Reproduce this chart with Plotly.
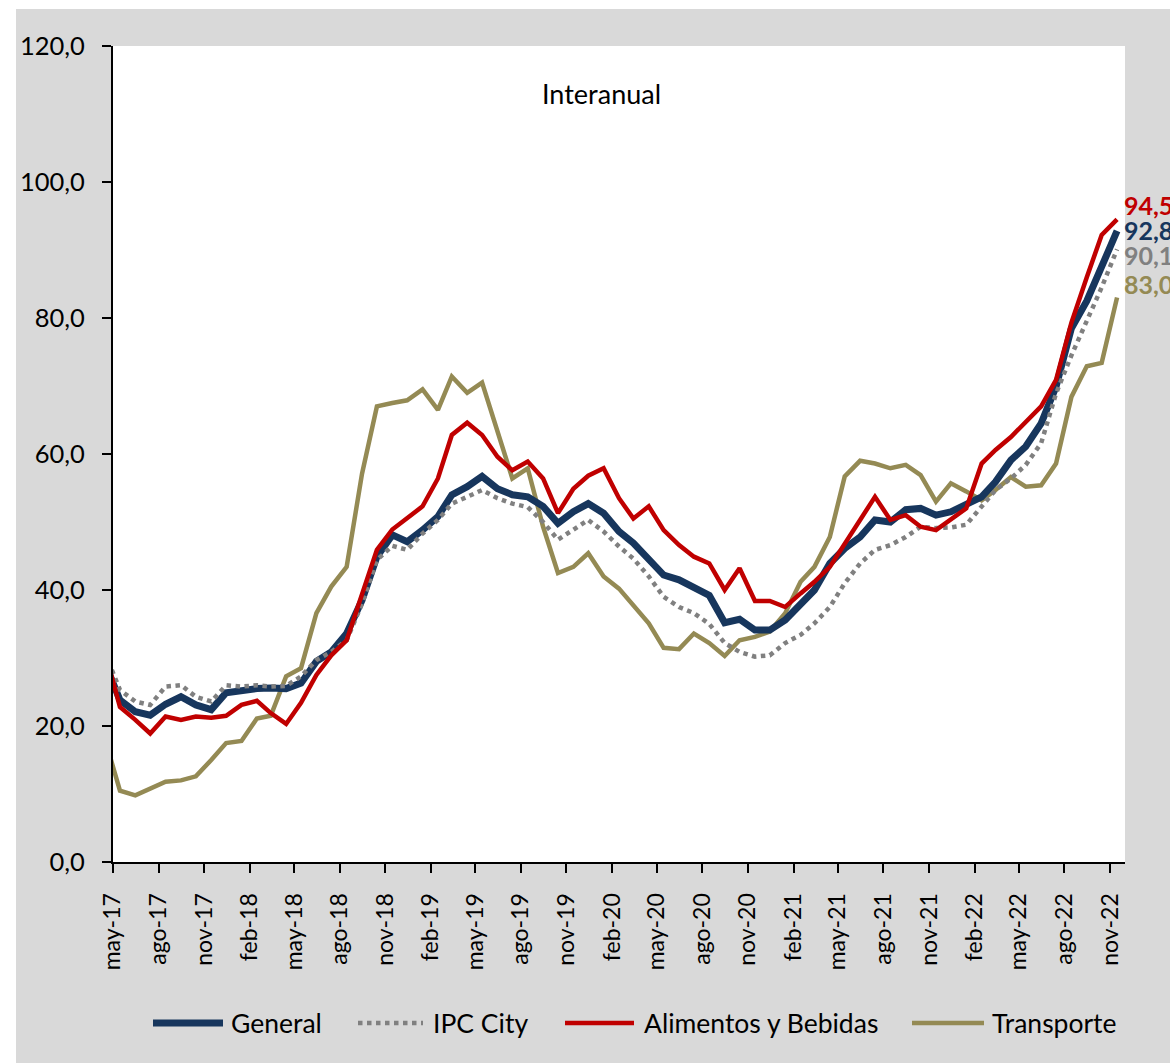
import pandas as pd
import plotly.graph_objects as go

# Monthly points (mid-month), apr-17 .. nov-22 (apr-17 lies left of the axis start and is clipped)
months = [d.strftime("%Y-%m-15") for d in pd.date_range("2017-04-01", "2022-11-01", freq="MS")]

general = [29.2, 23.8, 22.1, 21.6, 23.2, 24.3, 23.1, 22.4, 24.9, 25.3, 25.5, 25.6, 25.5, 26.3, 29.5, 30.9,
           33.6, 38.5, 44.9, 48.1, 47.1, 48.8, 50.8, 54.0, 55.2, 56.7, 54.9, 54.0, 53.7, 52.3, 49.8, 51.5,
           52.7, 51.3, 48.6, 46.9, 44.4, 42.2, 41.5, 40.5, 39.2, 35.2, 35.7, 34.1, 34.1, 35.6, 37.8, 40.0,
           43.9, 46.1, 47.8, 50.3, 50.0, 51.8, 52.0, 51.0, 51.5, 52.5, 53.7, 55.9, 59.1, 61.1, 64.5, 69.9,
           78.5, 82.5, 87.5, 92.8]

ipc_city = [30.7, 25.3, 23.6, 23.1, 25.8, 26.0, 24.3, 23.6, 26.0, 25.8, 26.0, 25.8, 25.9, 27.3, 29.7, 30.9,
            32.6, 38.0, 44.4, 46.5, 45.9, 48.3, 50.3, 52.7, 53.7, 54.7, 53.5, 52.7, 52.2, 50.0, 47.4, 48.8,
            50.3, 48.6, 46.4, 44.6, 42.0, 39.0, 37.5, 36.6, 35.0, 32.2, 30.9, 30.2, 30.4, 32.2, 33.4, 35.1,
            37.5, 41.0, 43.9, 45.9, 46.6, 47.8, 49.3, 49.1, 49.2, 49.6, 52.3, 54.7, 56.4, 58.4, 61.6, 68.9,
            74.5, 79.5, 84.5, 90.1]

alimentos = [30.8, 22.8, 20.9, 18.9, 21.4, 20.9, 21.4, 21.2, 21.5, 23.1, 23.7, 21.9, 20.3, 23.4, 27.5, 30.4,
             32.6, 39.5, 45.9, 48.9, 50.5, 52.3, 56.4, 62.8, 64.6, 62.8, 59.6, 57.6, 58.9, 56.4, 51.3, 54.9,
             56.8, 57.9, 53.5, 50.5, 52.3, 48.8, 46.6, 44.9, 43.9, 40.0, 43.2, 38.4, 38.4, 37.5, 39.5, 41.2,
             43.4, 46.9, 50.3, 53.7, 50.3, 51.0, 49.3, 48.8, 50.3, 52.0, 58.6, 60.6, 62.5, 64.8, 67.0, 70.9,
             79.3, 86.0, 92.2, 94.5]

transporte = [18.0, 10.5, 9.8, 10.7, 11.8, 12.0, 12.6, 15.0, 17.5, 17.8, 21.1, 21.5, 27.3, 28.5, 36.6, 40.5,
              43.4, 57.1, 67.0, 67.5, 67.9, 69.5, 66.5, 71.4, 69.0, 70.5, 63.5, 56.4, 57.9, 49.3, 42.5, 43.4,
              45.4, 42.0, 40.2, 37.8, 35.1, 31.5, 31.3, 33.6, 32.2, 30.3, 32.6, 33.1, 33.9, 36.6, 41.2, 43.4,
              47.8, 56.7, 59.0, 58.6, 57.9, 58.4, 56.9, 53.0, 55.7, 54.5, 53.2, 54.7, 56.6, 55.2, 55.4, 58.6,
              68.4, 72.9, 73.4, 83.0]

tick_labels = ["may-17", "ago-17", "nov-17", "feb-18", "may-18", "ago-18", "nov-18", "feb-19",
               "may-19", "ago-19", "nov-19", "feb-20", "may-20", "ago-20", "nov-20", "feb-21",
               "may-21", "ago-21", "nov-21", "feb-22", "may-22", "ago-22", "nov-22"]
tick_vals = [d.strftime("%Y-%m-%d") for d in pd.date_range("2017-05-01", periods=len(tick_labels), freq="3MS")]

y_ticks = [0, 20, 40, 60, 80, 100, 120]

NAVY = "#17365D"
GREY = "#808080"
RED = "#C00000"
OLIVE = "#948A54"
FONT = "Lato, 'Open Sans', sans-serif"

series = {
    "General": (general, NAVY, 7, "solid"),
    "IPC City": (ipc_city, GREY, 4.5, "dot"),
    "Alimentos y Bebidas": (alimentos, RED, 4.5, "solid"),
    "Transporte": (transporte, OLIVE, 4.5, "solid"),
}

fig = go.Figure()
for name in ["Transporte", "General", "IPC City", "Alimentos y Bebidas"]:
    vals, col, w, dash = series[name]
    fig.add_trace(go.Scatter(x=months, y=vals, mode="lines", name=name,
                             line=dict(color=col, width=w, dash=dash), showlegend=False,
                             hoverinfo="x+y"))

# plot geometry in px (for converting fixed pixel positions to paper coords)
W, H = 1170, 1063
L, R, T, B = 113, 45, 46, 201
PW, PH = W - L - R, H - T - B

def px(xp):
    return (xp - L) / PW

def py(yp):
    return (H - B - yp) / PH

fig.update_layout(
    width=W, height=H,
    margin=dict(l=L, r=R, t=T, b=B),
    paper_bgcolor="#D9D9D9",
    plot_bgcolor="white",
    separators=",.",
    font=dict(family=FONT, size=24, color="black"),
    showlegend=False,
    xaxis=dict(
        type="date",
        range=["2017-05-01", "2022-12-01"],
        tickmode="array", tickvals=tick_vals, ticktext=tick_labels,
        tickangle=-90, ticks="outside", ticklen=9, tickwidth=2, tickcolor="black",
        showline=True, linecolor="black", linewidth=2, showgrid=False, zeroline=False,
        tickfont=dict(family=FONT, size=23, color="black"),
        ticklabelstandoff=11,
    ),
    yaxis=dict(
        range=[0, 120], tickmode="array", tickvals=y_ticks, tickformat=".1f",
        ticks="outside", ticklen=9, tickwidth=2, tickcolor="black",
        showline=True, linecolor="black", linewidth=2, showgrid=False, zeroline=False,
        tickfont=dict(family=FONT, size=25.5, color="black"),
        ticklabelstandoff=12,
    ),
)

# white strips outside the grey frame (left and top)
fig.add_shape(type="rect", xref="paper", yref="paper", x0=px(-50), x1=px(16), y0=py(1200), y1=py(-50),
              fillcolor="white", line_width=0, layer="below")
fig.add_shape(type="rect", xref="paper", yref="paper", x0=px(-50), x1=px(1300), y0=py(9), y1=py(-50),
              fillcolor="white", line_width=0, layer="below")

# title inside plot
fig.add_annotation(text="Interanual", xref="paper", yref="paper", x=px(601), y=py(75),
                   showarrow=False, font=dict(family=FONT, size=27, color="black"))

# end-value labels
def fmt(v):
    return f"{v:.1f}".replace(".", ",")

end_labels = [(alimentos, RED, 14), (general, NAVY, 1), (ipc_city, GREY, -6), (transporte, OLIVE, 14)]
for vals, col, ysh in end_labels:
    fig.add_annotation(text=f"<b>{fmt(vals[-1])}</b>", x=months[-1], y=vals[-1], xref="x", yref="y",
                       xanchor="left", yanchor="middle", xshift=6, yshift=ysh, showarrow=False,
                       borderpad=0, font=dict(family=FONT, size=25, color=col))

# manual legend
leg_y = 1023
legend_items = [
    ("General", 153, 223, 229),
    ("IPC City", 358, 423, 431),
    ("Alimentos y Bebidas", 565, 634, 642),
    ("Transporte", 912, 984, 990),
]
for name, x0, x1, tx in legend_items:
    _, col, w, dash = series[name]
    fig.add_shape(type="line", xref="paper", yref="paper", x0=px(x0), x1=px(x1), y0=py(leg_y), y1=py(leg_y),
                  line=dict(color=col, width=w, dash=dash))
    fig.add_annotation(text=name, xref="paper", yref="paper", x=px(tx), y=py(leg_y),
                       xanchor="left", yanchor="middle", showarrow=False,
                       font=dict(family=FONT, size=26.5, color="black"))

fig.write_html("out.html", config={"displayModeBar": False},
               post_script="document.body.style.margin='0';document.body.style.overflow='hidden';")
